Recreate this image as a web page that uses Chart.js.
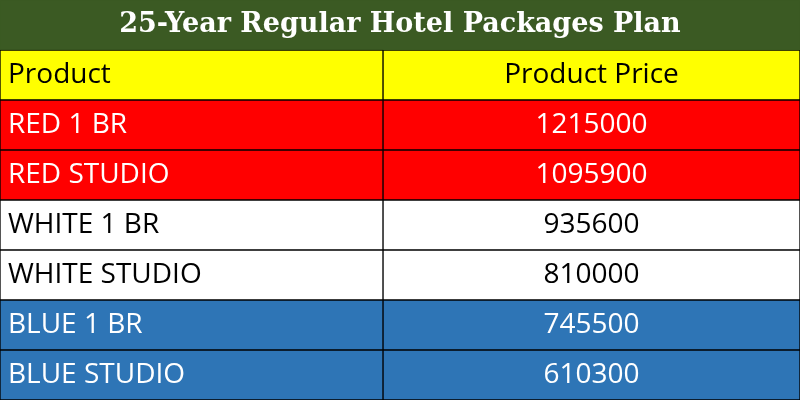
<!DOCTYPE html>
<html>
<head>
<meta charset="utf-8">
<script src="https://cdn.jsdelivr.net/npm/chart.js@4"></script>
<style>
  html, body { margin: 0; padding: 0; background: #fff; }
  canvas { display: block; }
</style>
</head>
<body>
<canvas id="tableChart" width="800" height="400"></canvas>
<script>
const title = "25-Year Regular Hotel Packages Plan";
const headers = ["Product", "Product Price"];
const products = ["RED 1 BR", "RED STUDIO", "WHITE 1 BR", "WHITE STUDIO", "BLUE 1 BR", "BLUE STUDIO"];
const prices = [1215000, 1095900, 935600, 810000, 745500, 610300];
const rowColors = ["#ff0000", "#ff0000", "#ffffff", "#ffffff", "#2e75b6", "#2e75b6"];
const textColors = ["#ffffff", "#ffffff", "#000000", "#000000", "#ffffff", "#ffffff"];

// rows: title, header, then products
const rows = ["title", "header", ...products];
const splitX = 383;
const fullX = 800;

const fillColors = ["#3b5a23", "#ffff00", ...rowColors];

// Cell text drawn at positions taken from the chart's own scales
const cellText = {
  id: "cellText",
  afterDatasetsDraw(chart) {
    const { ctx, scales: { x, y } } = chart;
    ctx.save();
    ctx.textBaseline = "middle";
    // title
    ctx.fillStyle = "#ffffff";
    ctx.font = "bold 27px 'DejaVu Serif', serif";
    ctx.textAlign = "center";
    ctx.fillText(title, x.getPixelForValue(fullX / 2), y.getPixelForValue(0));
    // header + products
    const firstCol = [headers[0], ...products];
    const secondCol = [headers[1], ...prices.map(String)];
    const colors = ["#000000", ...textColors];
    ctx.font = "28px 'Open Sans', sans-serif";
    firstCol.forEach((t, i) => {
      const cy = y.getPixelForValue(i + 1);
      ctx.fillStyle = colors[i];
      ctx.textAlign = "left";
      ctx.fillText(t, x.getPixelForValue(8), cy);
      ctx.textAlign = "center";
      ctx.fillText(secondCol[i], x.getPixelForValue((splitX + fullX) / 2), cy);
    });
    ctx.restore();
  }
};

new Chart(document.getElementById("tableChart"), {
  type: "bar",
  data: {
    labels: rows,
    datasets: [
      {
        data: rows.map((r, i) => (i === 0 ? [0, fullX] : [0, splitX])),
        backgroundColor: fillColors,
        borderColor: rows.map((r, i) => (i === 0 ? "#3b5a23" : "#000000")),
        borderWidth: 1,
        borderSkipped: false,
        grouped: false,
        barPercentage: 1,
        categoryPercentage: 1,
      },
      {
        data: rows.map((r, i) => (i === 0 ? null : [splitX, fullX])),
        backgroundColor: fillColors,
        borderColor: "#000000",
        borderWidth: 1,
        borderSkipped: false,
        grouped: false,
        barPercentage: 1,
        categoryPercentage: 1,
      },
    ],
  },
  options: {
    indexAxis: "y",
    responsive: false,
    animation: false,
    layout: { padding: 0 },
    plugins: { legend: { display: false }, tooltip: { enabled: false } },
    scales: {
      x: { min: 0, max: fullX, display: false },
      y: { display: false, offset: true },
    },
  },
  plugins: [cellText],
});
</script>
</body>
</html>
